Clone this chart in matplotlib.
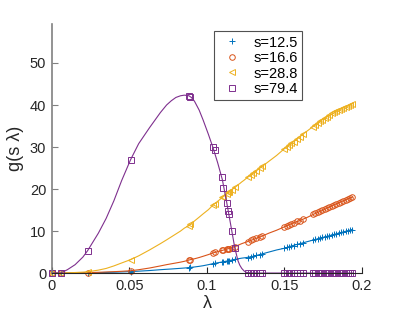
import matplotlib
matplotlib.use("Agg")
import matplotlib.pyplot as plt

plt.rcParams["font.family"] = ["Liberation Sans", "DejaVu Sans"]

# sample points (markers), shared by all four series
m_lam = [0, 0.0056, 0.023, 0.0508, 0.0884, 0.0894,
         0.104, 0.105, 0.1099, 0.1105, 0.1127, 0.1138, 0.1142, 0.1159, 0.1179,
         0.1265, 0.1285, 0.130, 0.132, 0.134, 0.1355,
         0.150, 0.1515, 0.153, 0.1545, 0.156, 0.158, 0.160, 0.162,
         0.1685, 0.170, 0.1715, 0.173, 0.1745, 0.176, 0.1775, 0.179, 0.1805,
         0.182, 0.1835, 0.185, 0.1865, 0.188, 0.1895, 0.191, 0.1925, 0.1935]

m_s125 = [0, 0, 0.05, 0.35, 1.3, 1.35,
          2.25, 2.3, 2.65, 2.7, 2.85, 2.9, 2.95, 3.1, 3.25,
          3.7, 3.85, 4.0, 4.2, 4.4, 4.6,
          5.9, 6.1, 6.2, 6.4, 6.5, 6.8, 7.0, 7.2,
          7.9, 8.0, 8.2, 8.3, 8.5, 8.6, 8.8, 8.9, 9.1,
          9.2, 9.4, 9.5, 9.7, 9.8, 10.0, 10.1, 10.3, 10.3]
m_s166 = [0, 0, 0.1, 0.55, 3.1, 3.2,
          4.8, 4.9, 5.4, 5.5, 5.7, 5.8, 5.8, 6.0, 6.3,
          7.5, 7.8, 8.0, 8.3, 8.6, 8.8,
          11.0, 11.2, 11.5, 11.7, 11.9, 12.3, 12.5, 12.9,
          14.0, 14.2, 14.5, 14.7, 15.0, 15.2, 15.5, 15.7, 16.0,
          16.2, 16.5, 16.7, 17.0, 17.2, 17.4, 17.7, 17.9, 18.0]
m_s288 = [0, 0.02, 0.3, 3.2, 11.3, 11.6,
          16.2, 16.5, 18.0, 18.2, 18.8, 19.2, 19.3, 19.8, 20.4,
          22.8, 23.4, 23.8, 24.4, 25.0, 25.4,
          29.6, 30.0, 30.5, 30.9, 31.3, 31.9, 32.5, 33.1,
          34.8, 35.3, 35.7, 36.1, 36.5, 36.9, 37.2, 37.6, 38.0,
          38.3, 38.6, 38.8, 39.1, 39.3, 39.5, 39.8, 40.1, 40.2]
m_s794 = [0, 0, 5.3, 27.0, 42.2, 42.0,
          30.1, 29.3, 22.8, 20.2, 16.6, 14.8, 14.0, 10.1, 6.0,
          0, 0, 0, 0, 0, 0,
          0, 0, 0, 0, 0, 0, 0, 0,
          0, 0, 0, 0, 0, 0, 0, 0, 0,
          0, 0, 0, 0, 0, 0, 0, 0, 0]

# fitted curves
c_lam = [0, 0.0056, 0.010, 0.015, 0.020, 0.023, 0.030, 0.035, 0.040, 0.045,
         0.0508, 0.056, 0.063, 0.070, 0.074, 0.077, 0.080, 0.083, 0.0855, 0.0884,
         0.090, 0.092, 0.095, 0.0976, 0.101, 0.104, 0.107, 0.110, 0.1127, 0.1159,
         0.1179, 0.1192, 0.120, 0.1212, 0.1225, 0.124, 0.1256, 0.130, 0.135, 0.140,
         0.145, 0.150, 0.155, 0.160, 0.165, 0.170, 0.175, 0.180, 0.185, 0.190,
         0.194]
c_s125 = [0, 0, 0.01, 0.02, 0.04, 0.05, 0.1, 0.15, 0.2, 0.27,
          0.35, 0.45, 0.6, 0.8, 0.9, 0.97, 1.05, 1.13, 1.2, 1.3,
          1.37, 1.45, 1.6, 1.75, 2.0, 2.25, 2.45, 2.65, 2.85, 3.1,
          3.25, 3.32, 3.4, 3.47, 3.55, 3.62, 3.7, 4.0, 4.5, 5.0,
          5.5, 5.9, 6.5, 7.0, 7.5, 8.0, 8.5, 9.0, 9.5, 10.0,
          10.4]
c_s166 = [0, 0, 0.02, 0.04, 0.07, 0.1, 0.18, 0.25, 0.33, 0.42,
          0.55, 0.8, 1.2, 1.7, 2.0, 2.2, 2.4, 2.6, 2.8, 3.1,
          3.25, 3.4, 3.7, 4.0, 4.4, 4.8, 5.1, 5.4, 5.7, 6.0,
          6.3, 6.45, 6.6, 6.8, 7.0, 7.2, 7.4, 8.0, 8.7, 9.5,
          10.2, 11.0, 11.8, 12.5, 13.3, 14.2, 15.0, 15.9, 16.7, 17.5,
          18.1]
c_s288 = [0, 0.02, 0.06, 0.13, 0.22, 0.3, 0.7, 1.1, 1.7, 2.4,
          3.2, 4.1, 5.5, 7.0, 7.9, 8.6, 9.3, 10.0, 10.7, 11.3,
          11.8, 12.4, 13.3, 14.1, 15.1, 16.2, 17.1, 18.0, 18.8, 19.8,
          20.4, 20.7, 21.0, 21.3, 21.7, 22.1, 22.6, 23.8, 25.2, 26.6,
          28.0, 29.6, 31.0, 32.5, 33.9, 35.3, 36.6, 37.7, 38.8, 39.6,
          40.3]
c_s794 = [0, 0, 0.8, 2.0, 3.8, 5.3, 9.5, 13.0, 17.2, 22.0,
          27.0, 30.8, 34.6, 38.2, 40.0, 41.0, 41.8, 42.2, 42.35, 42.2,
          41.8, 40.9, 38.8, 36.4, 33.0, 29.8, 26.2, 22.2, 17.0, 10.4,
          6.2, 4.2, 3.0, 1.9, 1.1, 0.5, 0.15, 0, 0, 0,
          0, 0, 0, 0, 0, 0, 0, 0, 0, 0,
          0]

labels = ["s=12.5", "s=16.6", "s=28.8", "s=79.4"]
colors = ["#0072BD", "#D95319", "#EDB120", "#7E2F8E"]
markers = ["+", "o", "<", "s"]
m_vals = [m_s125, m_s166, m_s288, m_s794]
c_vals = [c_s125, c_s166, c_s288, c_s794]

fig = plt.figure(figsize=(3.99, 3.19), dpi=100)
ax = fig.add_axes([0.130, 0.144, 0.777, 0.781])

for lab, col, mk, mv, cv in zip(labels, colors, markers, m_vals, c_vals):
    ax.plot(c_lam, cv, color=col, lw=0.8, clip_on=False)
    ax.plot(m_lam, mv, ls="none", marker=mk, markersize=4, mew=0.7,
            mfc="none", mec=col, label=lab, clip_on=False)

ax.set_xlim(0, 0.2)
ax.set_ylim(0, 59.3)
ax.set_xticks([0, 0.05, 0.1, 0.15, 0.2])
ax.set_xticklabels(["0", "0.05", "0.1", "0.15", "0.2"])
ax.set_yticks([0, 10, 20, 30, 40, 50])

for side in ["top", "right"]:
    ax.spines[side].set_visible(False)
ax.spines["left"].set_color("#808080")
ax.spines["left"].set_linewidth(1.2)
ax.spines["bottom"].set_color("#262626")
ax.spines["bottom"].set_linewidth(0.8)
ax.tick_params(direction="in", length=4, labelsize=10.5, colors="#262626", pad=4)
ax.tick_params(axis="y", color="#808080")

ax.set_xlabel("λ", fontsize=13, color="#262626", labelpad=2)
ax.set_ylabel("g(s λ)", fontsize=13, color="#262626", labelpad=4)

leg = ax.legend(loc="upper left", bbox_to_anchor=(0.50, 1.0), fontsize=10.5,
                frameon=True, fancybox=False, edgecolor="#262626",
                handletextpad=0.6, borderpad=0.3, labelspacing=0.1,
                handlelength=1.8)
leg.get_frame().set_linewidth(0.8)

fig.savefig("out.png", dpi=100)
